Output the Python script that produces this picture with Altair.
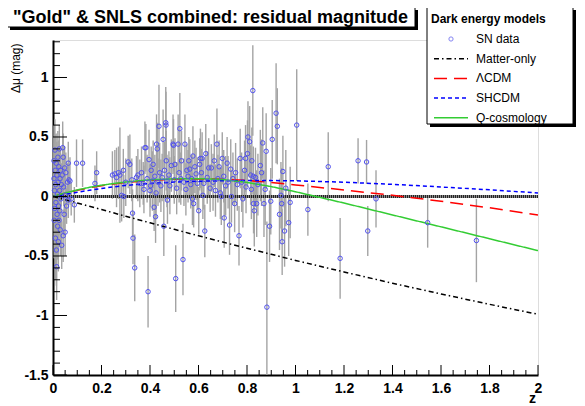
import altair as alt
import pandas as pd

FONT = "Liberation Sans"

# ---------------- SN data ----------------
sn_z = [
    0.004, 0.004, 0.005, 0.006, 0.007, 0.008, 0.009, 0.010, 0.011, 0.012,
    0.013, 0.014, 0.015, 0.016, 0.017, 0.018, 0.019, 0.020, 0.021, 0.022,
    0.023, 0.024, 0.025, 0.026, 0.027, 0.028, 0.029, 0.030, 0.031, 0.033,
    0.034, 0.036, 0.038, 0.040, 0.042, 0.042, 0.044, 0.046, 0.048, 0.050,
    0.050, 0.053, 0.056, 0.060, 0.063, 0.063, 0.066, 0.070, 0.075, 0.088,
    0.097, 0.122,
    0.173, 0.180, 0.245, 0.255, 0.262, 0.270, 0.276, 0.283, 0.290, 0.292,
    0.300, 0.310, 0.317, 0.325, 0.328, 0.330, 0.337, 0.344, 0.350,
    0.358, 0.365, 0.372, 0.375, 0.379, 0.383, 0.388, 0.392, 0.396, 0.400,
    0.402, 0.405, 0.410, 0.413, 0.417, 0.420, 0.423, 0.425, 0.427, 0.430,
    0.433, 0.437, 0.440, 0.445, 0.450, 0.454, 0.457, 0.460, 0.465, 0.466,
    0.467, 0.470, 0.472, 0.478, 0.482, 0.488, 0.495, 0.497, 0.500, 0.503,
    0.506, 0.510, 0.516, 0.520, 0.523, 0.527, 0.530, 0.536, 0.540, 0.544,
    0.548, 0.552, 0.557, 0.560, 0.564, 0.568, 0.572, 0.575, 0.577, 0.580,
    0.585, 0.590, 0.595, 0.601,
    0.605, 0.608, 0.612, 0.615, 0.618, 0.622, 0.626, 0.630, 0.636, 0.642,
    0.648, 0.653, 0.660, 0.665, 0.670, 0.676, 0.680, 0.685, 0.690, 0.694,
    0.698, 0.704, 0.706, 0.712, 0.718, 0.722, 0.728, 0.733, 0.736, 0.742,
    0.749, 0.753, 0.760, 0.767, 0.772, 0.778, 0.783, 0.790, 0.794, 0.796,
    0.802, 0.804, 0.811, 0.815, 0.818, 0.820, 0.824, 0.826, 0.827, 0.830,
    0.835, 0.840, 0.845, 0.855, 0.860, 0.865, 0.870, 0.875, 0.879, 0.882,
    0.893, 0.898, 0.904, 0.920, 0.925, 0.934, 0.940, 0.943, 0.945, 0.948,
    0.955, 0.960, 0.972, 0.978,
    1.005, 1.051, 1.135, 1.184, 1.258, 1.293, 1.298, 1.332, 1.545, 1.746,
]
sn_dmu = [
    0.30, 0.15, -0.20, 0.05, -0.10, 0.39, 0.22, -0.35, 0.10, -0.05,
    0.28, -0.45, -0.59, 0.18, -0.15, 0.02, -0.25, 0.33, 0.12, -0.38,
    -0.08, 0.25, -0.20, 0.40, 0.05, -0.12, 0.15, -0.28, 0.22, -0.02,
    0.10, -0.41, 0.18, 0.41, 0.33, -0.33, 0.08, -0.15, 0.24, -0.30,
    0.01, 0.20, -0.08, 0.12, 0.28, -0.03, 0.14, 0.13, -0.02, -0.07,
    0.28, 0.28,
    0.11, 0.20, 0.18, 0.19, 0.16, 0.20, 0.18, 0.01, 0.22, 0.00,
    0.12, 0.29, 0.27, 0.14, -0.14, -0.35, -0.60, 0.16, 0.18,
    0.11, 0.20, 0.11, 0.06, 0.41, 0.41, 0.15, -0.80, 0.31, 0.05,
    0.09, 0.22, 0.13, 0.27, -0.09, 0.17, -0.17, 0.03, 0.44, 0.40,
    0.12, 0.59, 0.20, 0.09, 0.16, 0.48, -0.25, 0.22, 0.62, 0.60,
    0.30, 0.13, -0.03, 0.18, 0.09, 0.26, 0.44, 0.43, 0.14, 0.27,
    -0.69, 0.07, 0.44, 0.20, 0.57, 0.15, 0.30, -0.53, 0.12, 0.44,
    0.06, 0.22, 0.17, 0.30, 0.23, 0.10, 0.15, -0.02, 0.34, -0.06,
    0.25, 0.19, 0.11, -0.12,
    0.27, 0.32, 0.20, 0.32, 0.01, 0.11, -0.29, 0.36, 0.16, 0.24,
    0.07, 0.24, 0.12, 0.30, 0.05, 0.44, 0.15, 0.25, 0.03, 0.00,
    0.32, 0.17, -0.18, 0.09, 0.28, 0.12, -0.24, 0.23, 0.00, 0.15,
    -0.06, 0.20, 0.10, -0.33, 0.32, 0.12, -0.02, 0.22, 0.32, 0.08,
    0.36, 0.50, 0.46, 0.18, 0.06, 0.30, 0.89, 0.17, -0.06, -0.12,
    0.16, -0.06, 0.10, 0.26, 0.20, 0.45, -0.06, 0.06, 0.38, -0.93,
    -0.25, -0.04, 0.48, 0.70, 0.59, -0.15, 0.01, -0.06, -0.38, 0.21,
    -0.29, 0.07, -0.22, -0.05,
    0.60, -0.11, 0.25, -0.52, 0.30, 0.29, -0.29, -0.02, -0.22, -0.37,
]
sn_err = [
    0.30, 0.35, 0.32, 0.40, 0.42, 0.26, 0.30, 0.35, 0.30, 0.33,
    0.25, 0.30, 0.28, 0.28, 0.30, 0.27, 0.28, 0.22, 0.25, 0.25,
    0.24, 0.22, 0.22, 0.20, 0.22, 0.20, 0.20, 0.22, 0.20, 0.20,
    0.18, 0.20, 0.18, 0.22, 0.20, 0.22, 0.16, 0.18, 0.18, 0.20,
    0.16, 0.17, 0.15, 0.16, 0.18, 0.15, 0.14, 0.20, 0.14, 0.15,
    0.20, 0.20,
    0.15, 0.18, 0.20, 0.20, 0.25, 0.22, 0.40, 0.22, 0.18, 0.18,
    0.20, 0.22, 0.25, 0.18, 0.20, 0.22, 0.28, 0.18, 0.22,
    0.20, 0.22, 0.18, 0.20, 0.22, 0.20, 0.20, 0.30, 0.25, 0.22,
    0.18, 0.20, 0.25, 0.20, 0.20, 0.18, 0.22, 0.22, 0.25, 0.22,
    0.20, 0.35, 0.25, 0.22, 0.20, 0.25, 0.25, 0.24, 0.30, 0.28,
    0.25, 0.22, 0.20, 0.20, 0.24, 0.22, 0.25, 0.22, 0.20, 0.22,
    0.28, 0.22, 0.25, 0.25, 0.30, 0.22, 0.25, 0.30, 0.20, 0.25,
    0.22, 0.22, 0.22, 0.20, 0.25, 0.20, 0.20, 0.22, 0.25, 0.20,
    0.22, 0.22, 0.22, 0.20,
    0.22, 0.25, 0.20, 0.22, 0.20, 0.22, 0.22, 0.25, 0.22, 0.25,
    0.20, 0.20, 0.24, 0.22, 0.22, 0.30, 0.20, 0.22, 0.22, 0.24,
    0.22, 0.22, 0.25, 0.25, 0.22, 0.22, 0.25, 0.25, 0.22, 0.22,
    0.24, 0.25, 0.22, 0.25, 0.25, 0.25, 0.24, 0.25, 0.28, 0.22,
    0.28, 0.30, 0.30, 0.25, 0.25, 0.28, 0.38, 0.25, 0.25, 0.30,
    0.25, 0.28, 0.26, 0.30, 0.28, 0.30, 0.28, 0.30, 0.32, 0.72,
    0.30, 0.28, 0.33, 0.42, 0.32, 0.30, 0.28, 0.30, 0.28, 0.30,
    0.30, 0.32, 0.28, 0.30,
    0.47, 0.22, 0.29, 0.34, 0.19, 0.185, 0.21, 0.24, 0.21, 0.35,
]

# ---------------- model curves ----------------
model_z = [0, 0.05, 0.1, 0.15, 0.2, 0.3, 0.4, 0.5, 0.6, 0.7, 0.8, 0.9,
           1.0, 1.2, 1.4, 1.6, 1.8, 2.0]
matter_only = [0, -0.027, -0.055, -0.082, -0.110, -0.166, -0.221, -0.276,
               -0.330, -0.383, -0.435, -0.486, -0.537, -0.634, -0.729,
               -0.819, -0.906, -0.990]
lcdm = [0, 0.028, 0.052, 0.073, 0.091, 0.118, 0.135, 0.145, 0.148, 0.145,
        0.135, 0.118, 0.097, 0.055, 0.010, -0.040, -0.095, -0.155]
shcdm = [0, 0.018, 0.035, 0.052, 0.068, 0.093, 0.110, 0.121, 0.128, 0.132,
         0.134, 0.134, 0.132, 0.120, 0.102, 0.080, 0.056, 0.030]
qcosmo = [0, 0.030, 0.055, 0.077, 0.095, 0.122, 0.140, 0.148, 0.150, 0.143,
          0.118, 0.083, 0.040, -0.055, -0.155, -0.255, -0.355, -0.455]

model_names = ["Matter-only", "\u039bCDM", "SHCDM", "Q-cosmology"]
model_colors = ["#000000", "#ff0000", "#0000ff", "#33cc33"]
model_dashes = [[5, 3, 1.5, 3], [13, 7], [4, 3], [1, 0]]

legend_labels = ["SN data"] + model_names
legend_title = "Dark energy models"
title_text = "\"Gold\" & SNLS combined: residual magnitude"
x_title = "z"

x_major = [0, 0.2, 0.4, 0.6, 0.8, 1, 1.2, 1.4, 1.6, 1.8, 2]
x_minor = [0.05, 0.1, 0.15, 0.25, 0.3, 0.35, 0.45, 0.5, 0.55, 0.65, 0.7,
           0.75, 0.85, 0.9, 0.95, 1.05, 1.1, 1.15, 1.25, 1.3, 1.35, 1.45,
           1.5, 1.55, 1.65, 1.7, 1.75, 1.85, 1.9, 1.95]
y_major = [-1.5, -1, -0.5, 0, 0.5, 1]
y_minor = [-1.4, -1.3, -1.2, -1.1, -0.9, -0.8, -0.7, -0.6, -0.4, -0.3, -0.2,
           -0.1, 0.1, 0.2, 0.3, 0.4, 0.6, 0.7, 0.8, 0.9, 1.1, 1.2, 1.3]

# ---------------- tables ----------------
sn = pd.DataFrame({"z": sn_z, "dmu": sn_dmu, "err": sn_err})
sn["lo"] = sn["dmu"] - sn["err"]
sn["hi"] = sn["dmu"] + sn["err"]

models = pd.concat([
    pd.DataFrame({"z": model_z, "val": vals, "model": name})
    for name, vals in zip(model_names, [matter_only, lcdm, shcdm, qcosmo])
])

W, H = 485, 335
xs = alt.Scale(domain=[0, 2], nice=False, zero=False)
ys = alt.Scale(domain=[-1.5, 1.315], nice=False, zero=False)

xax = alt.Axis(title=None, values=x_major, labelExpr="datum.value + ''",
               ticks=False, tickSize=0, grid=False, domainColor="black",
               domainWidth=2, labelFont=FONT, labelFontSize=14,
               labelFontWeight="bold", labelColor="black", labelPadding=6,
               labelFlush=False, labelOverlap=False)
yax = alt.Axis(title="\u0394\u03bc (mag)", values=y_major,
               labelExpr="datum.value + ''", ticks=False, tickSize=0,
               grid=False, domainColor="black", domainWidth=2,
               labelFont=FONT, labelFontSize=14, labelFontWeight="bold",
               labelColor="black", labelPadding=5, labelFlush=False,
               labelOverlap=False, titleFont=FONT, titleFontSize=12,
               titleFontWeight="normal", titleColor="black", titleAngle=270,
               titleAlign="right", titleBaseline="middle", titleX=-38,
               titleY=3)

def X(f):
    return alt.X(f + ":Q", scale=xs, axis=xax)

def Y(f):
    return alt.Y(f + ":Q", scale=ys, axis=yax)

one = pd.DataFrame({"a": [0]})
zero = pd.DataFrame({"y0": [0]})

errbars = alt.Chart(sn).mark_rule(color="#a4a4a4", strokeWidth=1.4,
                                  clip=True).encode(
    x=X("z"), y=Y("lo"), y2="hi")

zero_base = alt.Chart(zero).mark_rule(color="#8a8a8a", strokeWidth=3).encode(
    y=Y("y0"))
zero_dots = alt.Chart(zero).mark_rule(color="#222222", strokeWidth=3,
                                      strokeDash=[1, 1]).encode(y=Y("y0"))

curves = alt.Chart(models).mark_line(strokeWidth=1.5, clip=True).encode(
    x=X("z"), y=Y("val"),
    color=alt.Color("model:N", scale=alt.Scale(domain=model_names,
                                               range=model_colors),
                    legend=None),
    strokeDash=alt.StrokeDash("model:N",
                              scale=alt.Scale(domain=model_names,
                                              range=model_dashes),
                              legend=None),
)

points = alt.Chart(sn).mark_point(shape="circle", filled=False, size=20,
                                  color="#5252ee", strokeWidth=1,
                                  opacity=1).encode(
    x=X("z"), y=Y("dmu"))

xt_major = alt.Chart(pd.DataFrame({"v": x_major})).mark_rule(
    color="black", strokeWidth=1).encode(
    x=alt.X("v:Q", scale=xs, axis=xax), y=alt.value(H), y2=alt.value(H - 10))
xt_minor = alt.Chart(pd.DataFrame({"v": x_minor})).mark_rule(
    color="black", strokeWidth=1).encode(
    x=alt.X("v:Q", scale=xs, axis=xax), y=alt.value(H), y2=alt.value(H - 5))
yt_major = alt.Chart(pd.DataFrame({"v": y_major})).mark_rule(
    color="black", strokeWidth=1).encode(
    y=alt.Y("v:Q", scale=ys, axis=yax), x=alt.value(0), x2=alt.value(14))
yt_minor = alt.Chart(pd.DataFrame({"v": y_minor})).mark_rule(
    color="black", strokeWidth=1).encode(
    y=alt.Y("v:Q", scale=ys, axis=yax), x=alt.value(0), x2=alt.value(7))

xtitle = alt.Chart(one).mark_text(
    text=x_title, font=FONT, fontSize=14, fontWeight="bold", align="right",
    baseline="alphabetic", color="black").encode(
    x=alt.value(W - 2), y=alt.value(H + 28))

layers = [errbars, zero_base, zero_dots, curves, points,
          xt_major, xt_minor, yt_major, yt_minor, xtitle]

# ---------------- title box ----------------
layers.append(alt.Chart(one).mark_rect(color="black").encode(
    x=alt.value(-43), x2=alt.value(365), y=alt.value(-30), y2=alt.value(-10)))
layers.append(alt.Chart(one).mark_rect(fill="white", stroke="black",
                                       strokeWidth=1).encode(
    x=alt.value(-46), x2=alt.value(362), y=alt.value(-33), y2=alt.value(-13)))
layers.append(alt.Chart(one).mark_text(
    text=title_text, font=FONT, fontSize=18, fontWeight="bold",
    align="left", baseline="alphabetic", color="black").encode(
    x=alt.value(-40), y=alt.value(-17)))

# ---------------- legend box ----------------
LX0, LX1, LY0, LY1 = 374, 520, -33, 84
layers.append(alt.Chart(one).mark_rect(color="black").encode(
    x=alt.value(LX0 + 3), x2=alt.value(LX1 + 3), y=alt.value(LY0 + 3),
    y2=alt.value(LY1 + 3)))
layers.append(alt.Chart(one).mark_rect(fill="white", stroke="black",
                                       strokeWidth=1).encode(
    x=alt.value(LX0), x2=alt.value(LX1), y=alt.value(LY0),
    y2=alt.value(LY1)))
layers.append(alt.Chart(one).mark_text(
    text=legend_title, font=FONT, fontSize=12, fontWeight="bold",
    align="left", baseline="alphabetic", color="black").encode(
    x=alt.value(LX0 + 4), y=alt.value(-17)))

row_y = [-1 + 19.7 * i for i in range(len(legend_labels))]
layers.append(alt.Chart(one).mark_point(shape="circle", filled=False,
                                        size=18, color="#5252ee",
                                        strokeWidth=1).encode(
    x=alt.value(LX0 + 24), y=alt.value(row_y[0])))
for i, name in enumerate(model_names):
    layers.append(alt.Chart(one).mark_rule(
        color=model_colors[i], strokeWidth=1.5,
        strokeDash=model_dashes[i]).encode(
        x=alt.value(LX0 + 7), x2=alt.value(LX0 + 41),
        y=alt.value(row_y[i + 1])))
for i, lab in enumerate(legend_labels):
    layers.append(alt.Chart(one).mark_text(
        text=lab, font=FONT, fontSize=12, align="left", baseline="middle",
        color="black").encode(x=alt.value(LX0 + 49), y=alt.value(row_y[i])))

chart = alt.layer(*layers).properties(
    width=W, height=H,
    padding={"left": 45, "top": 32, "right": 38, "bottom": 30},
    autosize=alt.AutoSizeParams(type="none"),
    background="white",
).configure_view(stroke="black", strokeWidth=1).configure(font=FONT)

chart.save("out.html", embed_options={"renderer": "svg", "actions": False})
